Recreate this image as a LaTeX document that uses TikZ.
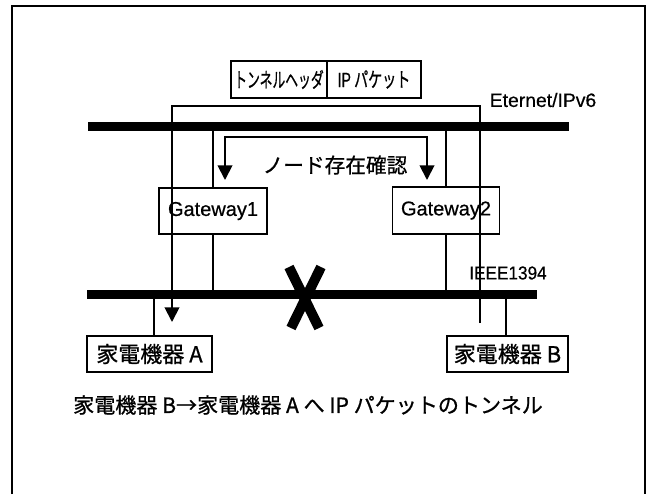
\documentclass[tikz,border=0pt]{standalone}
\usepackage{graphicx}
\usepackage{fontspec}
\setmainfont{Noto Sans CJK JP}[FakeBold=0.8]
\newfontfamily\latinf{Liberation Sans}[FakeBold=0.5]
\usetikzlibrary{arrows.meta,calc}
\tikzset{
  box/.style={draw, line width=1.4pt, fill=white, inner sep=0pt},
  thin/.style={line width=1.4pt},
  bus/.style={line width=6.75pt},
  arr/.style={-{Triangle[length=11pt,width=11pt]}},
  darr/.style={{Triangle[length=11pt,width=11pt]}-{Triangle[length=11pt,width=11pt]}},
  lbl/.style={inner sep=0pt},
}
\begin{document}
\begin{tikzpicture}[x=0.75pt,y=-0.75pt]
\useasboundingbox (0,0) rectangle (649,494);
% outer frame (open at the bottom)
\draw[line width=1.5pt] (12,494) -- (12,6) -- (645,6) -- (645,494);

% buses
\coordinate (ethL) at (88,126);
\coordinate (ethR) at (569,126);
\coordinate (busL) at (87,294);
\coordinate (busR) at (537,294);
\draw[bus] (ethL) -- (ethR);
\draw[bus] (busL) -- (busR);

% packet boxes
\node[box, minimum width=96*0.75pt, minimum height=37*0.75pt] (pk1) at (279,79.5)
  {\fontsize{15.5}{18}\selectfont\scalebox{0.62}[1]{トンネルヘッダ}};
\node[box, minimum width=94*0.75pt, minimum height=37*0.75pt] (pk2) at (374,79.5)
  {\fontsize{15.5}{18}\selectfont\scalebox{0.68}[1]{{\latinf IP} パケット}};

% gateways
\node[box, minimum width=108*0.75pt, minimum height=46*0.75pt] (gw1) at (213,211)
  {\latinf\fontsize{15}{18}\selectfont Gateway1};
\node[box, minimum width=107*0.75pt, minimum height=47*0.75pt] (gw2) at (446,210.5)
  {\latinf\fontsize{15}{18}\selectfont Gateway2};

% devices
\node[box, minimum width=125*0.75pt, minimum height=36*0.75pt] (devA) at (149.5,354)
  {\fontsize{16.5}{19}\selectfont 家電機器 A};
\node[box, minimum width=121*0.75pt, minimum height=36*0.75pt] (devB) at (507.5,354)
  {\fontsize{16.5}{19}\selectfont 家電機器 B};

% gateway connections
\draw[thin] (gw1.north) -- (gw1.north |- ethL);
\draw[thin] (gw1.south) -- (gw1.south |- busL);
\draw[thin] (gw2.north) -- (gw2.north |- ethL);
\draw[thin] (gw2.south) -- (gw2.south |- busL);

% device connections
\coordinate (aTap) at (154,294);
\coordinate (bTap) at (506,294);
\draw[thin] (aTap) -- (aTap |- devA.north);
\draw[thin] (bTap) -- (bTap |- devB.north);

% node existence check arrows
\coordinate (nA) at (225,180);
\coordinate (nB) at (427,180);
\coordinate (nTop) at (0,137);
\draw[thin, darr] (nA) -- (nA |- nTop) -- (nB |- nTop) -- (nB);
\node[lbl] (nlab) at (335,165) {\fontsize{15.5}{18}\selectfont ノード存在確認};

% tunnel path
\coordinate (tB) at (480,323);
\coordinate (tA) at (172,322);
\coordinate (tTop) at (0,106);
\draw[thin, arr] (tB) -- (tB |- tTop) -- (tA |- tTop) -- (tA);

% labels
\node[lbl] (ethlab) at (543,100) {\latinf\fontsize{14.5}{17}\selectfont Eternet/IPv6};
\node[lbl] (ieee) at (508,273) {\latinf\fontsize{14}{16}\selectfont\scalebox{0.92}[1]{IEEE1394}};

% broken link mark
\coordinate (x1) at (289,267);
\coordinate (x2) at (319,328);
\coordinate (x3) at (321,267);
\coordinate (x4) at (291,328);
\draw[line width=7.5pt] (x1) -- (x2);
\draw[line width=7.5pt] (x3) -- (x4);

% caption
\node[lbl] (cap) at (308,405) {\fontsize{15.8}{19}\selectfont 家電機器 B→家電機器 A へ IP パケットのトンネル};
\end{tikzpicture}
\end{document}
